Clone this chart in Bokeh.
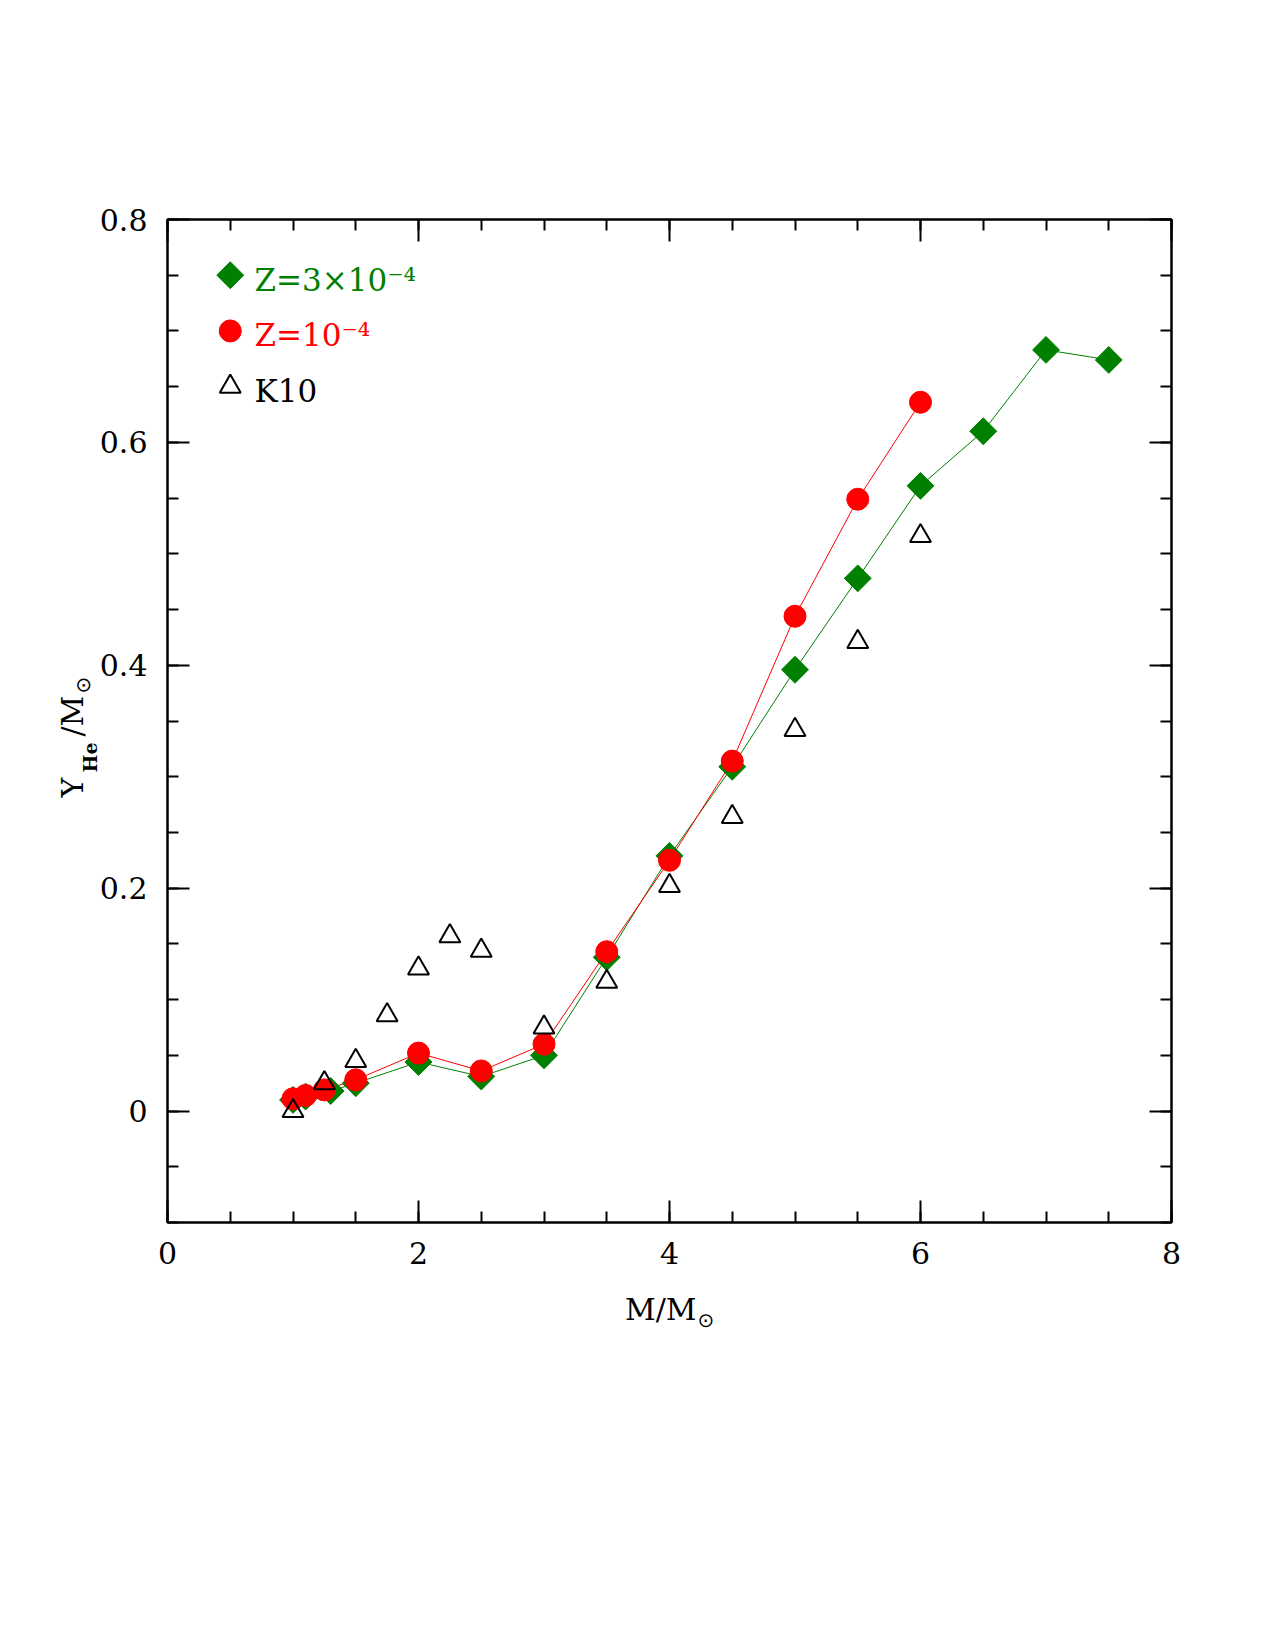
import numpy as np
from bokeh.plotting import figure
from bokeh.models import (Range1d, LinearAxis, SingleIntervalTicker, Label,
                          CustomJSTickFormatter, ColumnDataSource)
from bokeh.core.properties import value
from bokeh.embed import file_html
from bokeh.resources import INLINE

# Helium yield per unit stellar mass versus initial mass
mass_z3e4 = [1.0, 1.1, 1.3, 1.5, 2.0, 2.5, 3.0, 3.5, 4.0, 4.5, 5.0, 5.5, 6.0, 6.5, 7.0, 7.5]
yhe_z3e4 = [0.010, 0.013, 0.018, 0.025, 0.044, 0.031, 0.050, 0.138, 0.229, 0.309,
            0.396, 0.478, 0.561, 0.610, 0.683, 0.674]

mass_z1e4 = [1.0, 1.1, 1.25, 1.5, 2.0, 2.5, 3.0, 3.5, 4.0, 4.5, 5.0, 5.5, 6.0]
yhe_z1e4 = [0.011, 0.014, 0.019, 0.028, 0.052, 0.036, 0.060, 0.143, 0.225, 0.314,
            0.444, 0.549, 0.636]

mass_k10 = [1.0, 1.25, 1.5, 1.75, 2.0, 2.25, 2.5, 3.0, 3.5, 4.0, 4.5, 5.0, 5.5, 6.0]
yhe_k10 = [0.000, 0.025, 0.045, 0.086, 0.128, 0.157, 0.144, 0.075, 0.116, 0.202,
           0.264, 0.342, 0.421, 0.516]

legend_labels = ["Z=3×10⁻⁴", "Z=10⁻⁴", "K10"]

GREEN = "#008000"
RED = "#ff0000"
SERIF = "DejaVu Serif"

W, H = 1275, 1650
LEFT, RIGHT, TOP, BOTTOM = 167, 104, 219, 428
X0, X1 = 0.0, 8.0
Y0, Y1 = -0.1, 0.8

p = figure(width=W, height=H, output_backend="svg", toolbar_location=None,
           x_range=Range1d(X0, X1), y_range=Range1d(Y0, Y1),
           min_border_left=LEFT, min_border_right=RIGHT,
           min_border_top=TOP, min_border_bottom=BOTTOM,
           x_axis_location=None, y_axis_location=None)
p.xgrid.visible = False
p.ygrid.visible = False
p.outline_line_color = "black"
p.outline_line_width = 2
p.background_fill_color = "white"
p.border_fill_color = "white"

# frame geometry helpers (page pixels -> data units) for annotation placement
frame_w = W - LEFT - RIGHT
frame_h = H - TOP - BOTTOM
def px2x(px):
    return X0 + (px - LEFT) / frame_w * (X1 - X0)
def py2y(py):
    return Y1 - (py - TOP) / frame_h * (Y1 - Y0)


def styled_axis(axis, show_labels):
    axis.axis_line_width = 2
    axis.axis_line_color = "black"
    axis.major_tick_in = 22
    axis.major_tick_out = 0
    axis.minor_tick_in = 11
    axis.minor_tick_out = 0
    axis.major_tick_line_width = 2
    axis.minor_tick_line_width = 2
    axis.major_tick_line_color = "black"
    axis.minor_tick_line_color = "black"
    axis.major_label_text_font = SERIF
    axis.major_label_text_font_size = "30px"
    axis.major_label_text_color = "black" if show_labels else None
    return axis


y_fmt = CustomJSTickFormatter(code="""
    return Math.abs(tick) < 1e-9 ? "0" : tick.toFixed(1);
""")

for loc, show in (("below", True), ("above", False)):
    ax = LinearAxis(ticker=SingleIntervalTicker(interval=2, num_minor_ticks=4))
    styled_axis(ax, show)
    ax.major_label_standoff = 19
    p.add_layout(ax, loc)

for loc, show in (("left", True), ("right", False)):
    ax = LinearAxis(ticker=SingleIntervalTicker(interval=0.2, num_minor_ticks=4),
                    formatter=y_fmt)
    styled_axis(ax, show)
    ax.major_label_standoff = 20
    p.add_layout(ax, loc)

# connecting lines
p.line(mass_z3e4, yhe_z3e4, line_color=GREEN, line_width=1)
p.line(mass_z1e4, yhe_z1e4, line_color=RED, line_width=1)

# markers
p.scatter(mass_z3e4, yhe_z3e4, marker="square", angle=np.pi / 4, size=19,
          fill_color=GREEN, line_color=GREEN, line_width=1)
p.scatter(mass_z1e4, yhe_z1e4, marker="circle", size=22,
          fill_color=RED, line_color=RED, line_width=1)
p.scatter(mass_k10, yhe_k10, marker="triangle", size=21,
          fill_color=None, line_color="black", line_width=2)

# legend (inside the frame, upper left)
leg_x = 0.5
leg_y = [0.75, 0.70, 0.65]
p.scatter([leg_x], [leg_y[0]], marker="square", angle=np.pi / 4, size=19,
          fill_color=GREEN, line_color=GREEN)
p.scatter([leg_x], [leg_y[1]], marker="circle", size=22,
          fill_color=RED, line_color=RED)
p.scatter([leg_x], [leg_y[2]], marker="triangle", size=21,
          fill_color=None, line_color="black", line_width=2)
leg_src = ColumnDataSource(dict(
    x=[px2x(254)] * 3,
    y=[yy - 0.004 for yy in leg_y],
    text=legend_labels,
    color=[GREEN, RED, "black"],
))
p.text(x="x", y="y", text="text", text_color="color", source=leg_src,
       text_font=value(SERIF), text_font_size="31px",
       text_align="left", text_baseline="alphabetic")

# axis titles sit in the roomy bottom panel so the frame is not clipped or shifted
def title_piece(**kw):
    kw.setdefault("text_color", "black")
    kw.setdefault("text_align", "left")
    kw.setdefault("text_baseline", "alphabetic")
    p.add_layout(Label(**kw), "below")

# x axis title: M/M_sun
title_piece(x=px2x(696), y=py2y(1309), text="M/M", text_font=SERIF,
            text_font_size="30px", text_align="right")
title_piece(x=px2x(697), y=py2y(1319), text="⊙", text_font="DejaVu Sans",
            text_font_size="20px")

# y axis title: Y_He/M_sun (rotated)
rot = np.pi / 2
base_x = 72
title_piece(x=px2x(base_x), y=py2y(797), text="Y", angle=rot,
            text_font=SERIF, text_font_size="30px")
title_piece(x=px2x(base_x + 17), y=py2y(772), text="He", angle=rot,
            text_font=SERIF, text_font_size="19px", text_font_style="bold")
title_piece(x=px2x(base_x), y=py2y(736), text="/M", angle=rot,
            text_font=SERIF, text_font_size="30px")
title_piece(x=px2x(base_x + 10), y=py2y(693), text="⊙", angle=rot,
            text_font="DejaVu Sans", text_font_size="20px")

open("out.html", "w").write(file_html(p, INLINE))
